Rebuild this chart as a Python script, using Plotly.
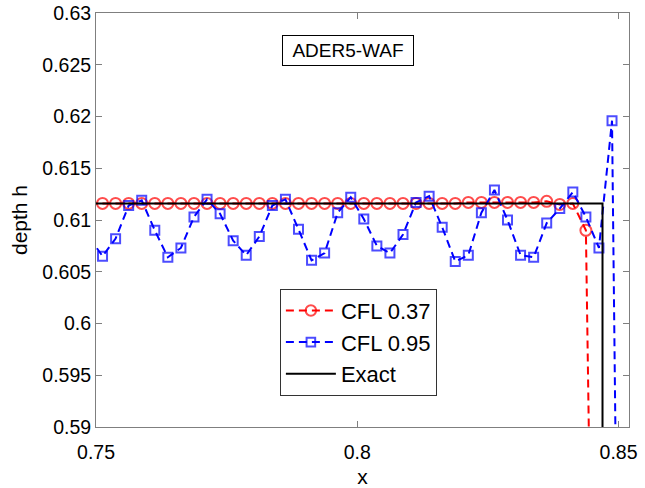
import plotly.graph_objects as go

# marker x positions (shared grid)
x_grid = [0.74875,
          0.75125, 0.75375, 0.75625, 0.75875, 0.76125, 0.76375, 0.76625, 0.76875,
          0.77125, 0.77375, 0.77625, 0.77875, 0.78125, 0.78375, 0.78625, 0.78875,
          0.79125, 0.79375, 0.79625, 0.79875, 0.80125, 0.80375, 0.80625, 0.80875,
          0.81125, 0.81375, 0.81625, 0.81875, 0.82125, 0.82375, 0.82625, 0.82875,
          0.83125, 0.83375, 0.83625, 0.83875, 0.84125, 0.84375, 0.84625, 0.84875]

# CFL 0.37 (red) : 38 marked points + drop beyond the front
red_x = x_grid[:39] + [0.84445]
red_y = [0.6116,
         0.6116, 0.6116, 0.6116, 0.6116, 0.6116, 0.6116, 0.6116, 0.6116,
         0.6116, 0.6116, 0.6116, 0.6116, 0.6116, 0.6116, 0.6116, 0.6116,
         0.6116, 0.6116, 0.6116, 0.6116, 0.6116, 0.6116, 0.6116, 0.6116,
         0.6116, 0.6116, 0.6116, 0.6116, 0.6117, 0.6117, 0.6117, 0.6117,
         0.6117, 0.6117, 0.6118, 0.6115, 0.6116, 0.6090,
         0.585]

# CFL 0.95 (blue) : 40 marked points + drop beyond the front
blue_x = x_grid + [0.8495]
blue_y = [0.6083,
          0.6065, 0.6082, 0.6114, 0.6119, 0.6090, 0.6064, 0.6073, 0.6103,
          0.6120, 0.6106, 0.6080, 0.6066, 0.6084, 0.6114, 0.6120, 0.6091,
          0.6061, 0.6068, 0.6107, 0.6122, 0.6101, 0.6075, 0.6068, 0.6086,
          0.6117, 0.6123, 0.6093, 0.6060, 0.6066, 0.6107, 0.6129, 0.6100,
          0.6066, 0.6064, 0.6097, 0.6111, 0.6127, 0.6103, 0.6073, 0.6196,
          0.585]

# Exact solution
exact_x = [0.74, 0.84693, 0.84693]
exact_y = [0.6116, 0.6116, 0.58]

y_ticks = [0.59, 0.595, 0.6, 0.605, 0.61, 0.615, 0.62, 0.625, 0.63]
y_ticklabels = ["0.59", "0.595", "0.6", "0.605", "0.61", "0.615", "0.62", "0.625", "0.63"]
x_ticks = [0.75, 0.8, 0.85]
x_ticklabels = ["0.75", "0.8", "0.85"]

FONT = "Liberation Sans, Arial, sans-serif"
AX = "#7f7f7f"

red_sizes = [0] + [11] * 38 + [0]
blue_sizes = [0] + [9] * 40 + [0]

fig = go.Figure()
fig.add_trace(go.Scatter(
    x=red_x, y=red_y, mode="lines+markers", name="CFL 0.37",
    line=dict(color="#ff0000", width=2, dash="8px,5px"),
    marker=dict(symbol="circle-open", size=red_sizes, color="#ff0000",
                line=dict(width=2, color="#ff0000")),
))
fig.add_trace(go.Scatter(
    x=blue_x, y=blue_y, mode="lines+markers", name="CFL 0.95",
    line=dict(color="#0000ff", width=2, dash="8px,5px"),
    marker=dict(symbol="square-open", size=blue_sizes, color="#0000ff",
                line=dict(width=2, color="#0000ff")),
))
fig.add_trace(go.Scatter(
    x=exact_x, y=exact_y, mode="lines", name="Exact",
    line=dict(color="#000000", width=2),
))

fig.update_layout(
    width=645, height=488,
    margin=dict(l=96, r=16, t=13, b=61),
    paper_bgcolor="white", plot_bgcolor="white",
    font=dict(family=FONT, size=19, color="black"),
    showlegend=True,
    legend=dict(
        x=0.345, y=0.334, xanchor="left", yanchor="top",
        bgcolor="white", bordercolor="#333333", borderwidth=1,
        font=dict(family=FONT, size=22, color="black"),
        itemwidth=50, tracegroupgap=0,
    ),
    annotations=[dict(
        text="ADER5-WAF", xref="paper", yref="paper", x=0.473, y=0.909,
        xanchor="center", yanchor="middle", showarrow=False,
        font=dict(family=FONT, size=19, color="black"),
        bordercolor="black", borderwidth=1, borderpad=4,
        width=122, height=21, bgcolor="white",
    )],
)

fig.update_xaxes(
    range=[0.75, 0.852], tickvals=x_ticks, ticktext=x_ticklabels,
    automargin=False, ticklabelstandoff=8,
    showgrid=False, zeroline=False, showline=True, linecolor=AX, linewidth=1,
    mirror="ticks", ticks="inside", ticklen=6, tickcolor=AX,
    tickfont=dict(family=FONT, size=19.5, color="black"),
    title=dict(text="x", font=dict(family=FONT, size=21, color="black"), standoff=12),
)
fig.update_yaxes(
    range=[0.59, 0.63], tickvals=y_ticks, ticktext=y_ticklabels,
    automargin=False,
    showgrid=False, zeroline=False, showline=True, linecolor=AX, linewidth=1,
    mirror="ticks", ticks="inside", ticklen=6, tickcolor=AX,
    tickfont=dict(family=FONT, size=19.5, color="black"),
    title=dict(text="depth h", font=dict(family=FONT, size=21, color="black"), standoff=8),
)

fig.write_html("out.html")
